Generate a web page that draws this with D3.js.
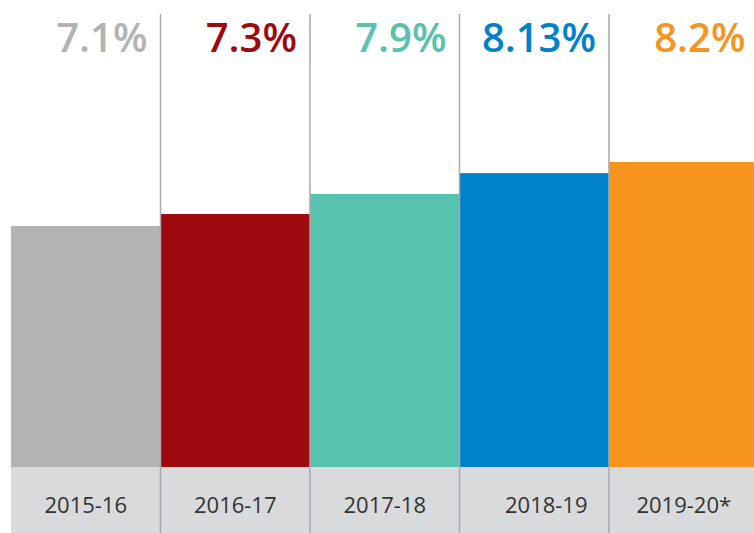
<!DOCTYPE html>
<html>
<head>
<meta charset="utf-8">
<script src="https://cdn.jsdelivr.net/npm/d3@7"></script>
<style>
  body{margin:0;background:#fff;}
  svg{display:block;}
</style>
</head>
<body>
<script>
// data
var years=["2015-16","2016-17","2017-18","2018-19","2019-20*"];
var rateLabels=["7.1%","7.3%","7.9%","8.13%","8.2%"];
// drawn bar heights (not proportional to the labels in the source chart)
var barLevels=[6.48,6.80,7.34,7.90,8.20];
var colors=["#b1b3b5","#9d0a0e","#57c2ae","#0081cb","#f7941d"];

var drawGraph=function(w,h)
{
  var svg=d3.select("body").append("svg")
            .attr("width",w)
            .attr("height",h);

  var margins={top:14,left:11,right:-4.5,bottom:66};
  var base=h-margins.bottom;

  var xScale=d3.scaleBand()
               .domain(years)
               .range([margins.left,w-margins.right])
               .padding(0);
  var yScale=d3.scaleLinear()
               .domain([0,10])
               .range([base,base-372]);

  // bars
  svg.append("g").classed("bars",true)
     .selectAll("rect")
     .data(years)
     .enter()
     .append("rect")
     .attr("x",function(d){return xScale(d);})
     .attr("y",function(d,i){return yScale(barLevels[i]);})
     .attr("width",xScale.bandwidth())
     .attr("height",function(d,i){return yScale(0)-yScale(barLevels[i]);})
     .attr("fill",function(d,i){return colors[i];});

  // grey band with year labels
  svg.append("rect")
     .attr("x",margins.left)
     .attr("y",base)
     .attr("width",w-margins.left)
     .attr("height",margins.bottom)
     .attr("fill","#d9dadc");

  svg.append("g").classed("years",true)
     .selectAll("text")
     .data(years)
     .enter()
     .append("text")
     .attr("x",function(d){return xScale(d)+xScale.bandwidth()/2;})
     .attr("dx",function(d,i){return i==3?12:0;})
     .attr("y",base+46)
     .attr("text-anchor","middle")
     .attr("font-family","'Open Sans', sans-serif")
     .attr("font-size",22)
     .attr("fill","#333")
     .text(function(d){return d;});

  // separators
  svg.append("g").classed("separators",true)
     .selectAll("line")
     .data(years.slice(1))
     .enter()
     .append("line")
     .attr("x1",function(d){return xScale(d);})
     .attr("x2",function(d){return xScale(d);})
     .attr("y1",margins.top)
     .attr("y2",h)
     .attr("stroke","#a7a9ac")
     .attr("stroke-width",1.5);

  // value labels
  svg.append("g").classed("values",true)
     .selectAll("text")
     .data(rateLabels)
     .enter()
     .append("text")
     .attr("x",function(d,i){return xScale(years[i])+xScale.bandwidth()-13;})
     .attr("y",52)
     .attr("text-anchor","end")
     .attr("font-family","'Open Sans', sans-serif")
     .attr("font-weight",600)
     .attr("font-size",40)
     .attr("fill",function(d,i){return colors[i];})
     .text(function(d){return d;});
};

drawGraph(754,533);
</script>
</body>
</html>
